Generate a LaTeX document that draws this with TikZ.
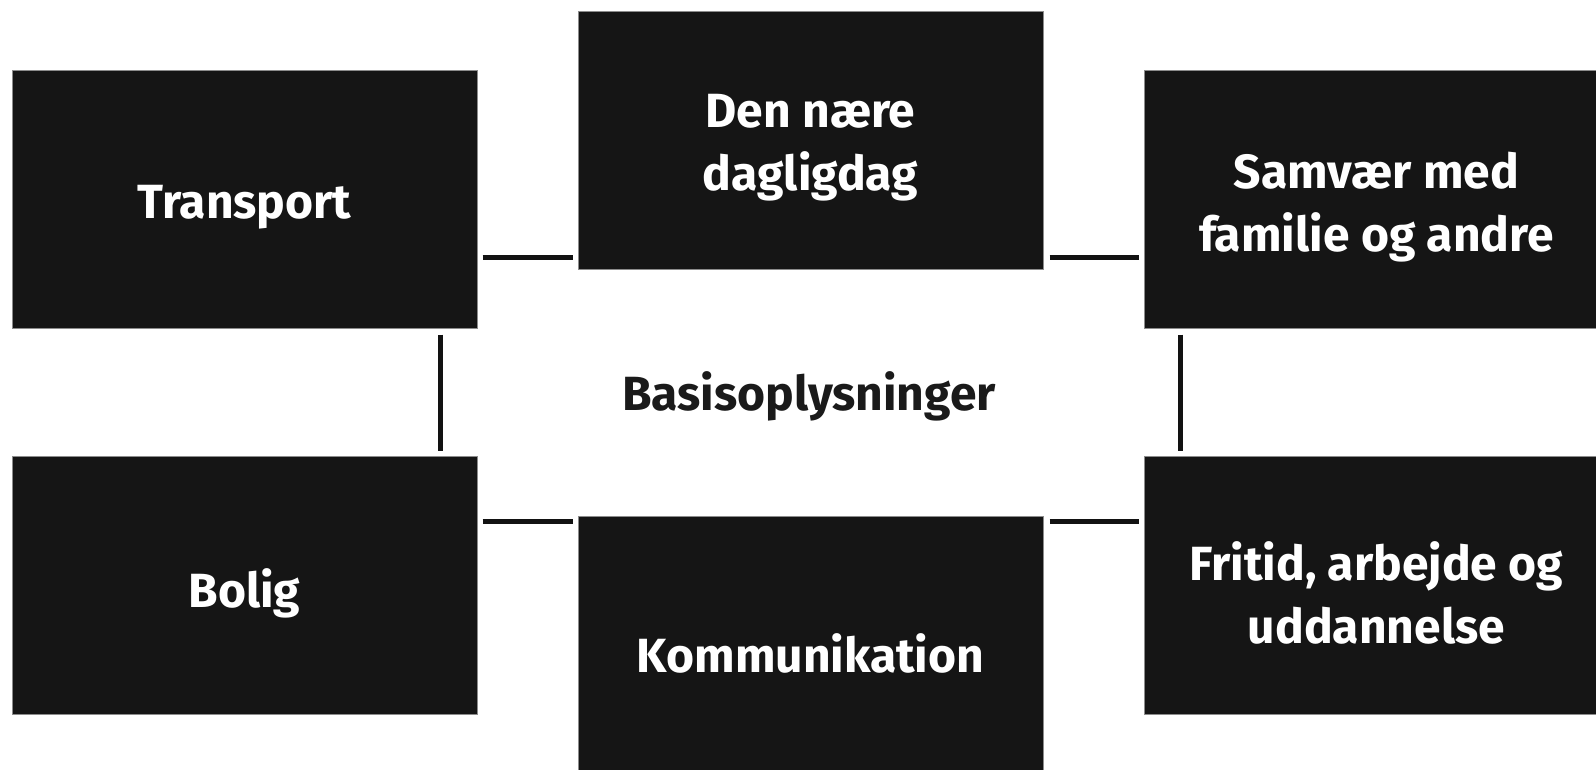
\documentclass[tikz,border=0pt]{standalone}
\usepackage{fontspec}
\setmainfont{Fira Sans}
\usetikzlibrary{calc}
\definecolor{boxfill}{HTML}{151515}
\definecolor{boxedge}{HTML}{8C8C8C}
\definecolor{inktext}{HTML}{1A1A1A}
\begin{document}
\begin{tikzpicture}[x=1pt,y=-1pt,
  topic/.style={draw=boxedge,line width=1pt,fill=boxfill,
    minimum width=465pt,minimum height=258pt,inner sep=0pt},
  topictext/.style={text=white,inner sep=0pt,align=center,yshift=-8pt,
    font=\fontsize{48}{63}\selectfont\bfseries},
  centre/.style={text=inktext,inner sep=0pt,font=\fontsize{48}{63}\selectfont\bfseries},
  conn/.style={draw=black!93,line width=5pt}]
\path[use as bounding box] (0,0) rectangle (1596,769);
\clip (0,0) rectangle (1596,769);
\fill[white] (0,0) rectangle (1596,769);
\node[topic,label={[topictext,name=Tt]center:Transport}] (T) at (244.5,199) {};
\node[topic,label={[topictext,name=Dt]center:Den nære\\dagligdag}] (D) at (810.5,140) {};
\node[topic,label={[topictext,name=St]center:Samvær med\\familie og andre}] (S) at (1376.5,199) {};
\node[topic,label={[topictext,name=Bt]center:Bolig}] (B) at (244.5,585) {};
\node[topic,label={[topictext,name=Kt]center:Kommunikation}] (K) at (810.5,645) {};
\node[topic,label={[topictext,name=Ft]center:Fritid, arbejde og\\uddannelse}] (F) at (1376.5,585) {};
\node[centre] (basis) at (809,396) {Basisoplysninger};
\draw[conn] ($(T.east |- D.south)+(5,-12)$) -- ($(D.south west)+(-5,-12)$);
\draw[conn] ($(D.south east)+(6,-12)$) -- ($(S.west |- D.south)+(-5,-12)$);
\draw[conn] ($(B.east |- K.north)+(5,6)$) -- ($(K.north west)+(-5,6)$);
\draw[conn] ($(K.north east)+(6,6)$) -- ($(F.west |- K.north)+(-5,6)$);
\draw[conn] ($(T.south east)+(-37,6)$) -- ($(B.north east)+(-37,-5)$);
\draw[conn] ($(S.south west)+(37,6)$) -- ($(F.north west)+(37,-5)$);
\end{tikzpicture}
\end{document}
